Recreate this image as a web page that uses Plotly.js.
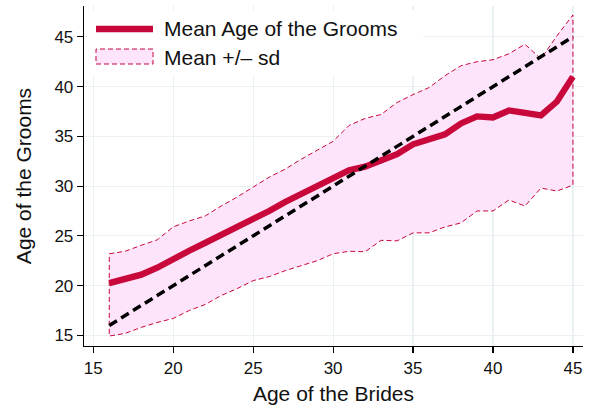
<!DOCTYPE html>
<html>
<head>
<meta charset="utf-8">
<script src="https://cdn.plot.ly/plotly-3.0.1.min.js"></script>
<style>
  html, body { margin: 0; padding: 0; background: #fff; }
  #chart { width: 597px; height: 412px; }
</style>
</head>
<body>
<div id="chart"></div>
<script>
// ---- data ----
const brideAge = [16,17,18,19,20,21,22,23,24,25,26,27,28,29,30,31,32,33,34,35,36,37,38,39,40,41,42,43,44,45];
const groomMean = [20.25,20.6,21.1,21.8,22.7,23.5,24.3,25.1,25.9,26.6,27.5,28.4,29.2,29.95,30.75,31.6,31.95,32.6,33.2,34.2,34.7,35.2,36.3,37.0,36.9,37.6,37.35,37.1,38.5,41.0];
const groomUpper = [23.2,23.45,24.05,24.6,25.9,26.5,27.0,28.0,28.9,29.9,30.9,31.7,32.7,33.6,34.5,36.1,36.8,37.2,38.4,39.2,39.9,41.1,42.1,42.5,42.7,43.3,44.25,42.8,45.1,47.2];
const groomLower = [14.93,15.2,15.8,16.3,16.7,17.5,18.1,19.0,19.7,20.5,20.9,21.5,22.0,22.5,23.2,23.45,23.4,24.55,24.5,25.3,25.3,25.9,26.3,27.5,27.5,28.6,28.0,29.8,29.5,30.1];
const equalAgeLine = [16, 45];
const xTicks = [15,20,25,30,35,40,45];
const yTicks = [15,20,25,30,35,40,45];
const legendLabels = ['Mean Age of the Grooms', 'Mean +/\u2013 sd'];

// ---- styles ----
const RED = '#c8073a';
const PINK = '#fde4fa';
const FONT = 'Liberation Sans, Arial, Helvetica, sans-serif';

// closed band polygon: upper left->right, lower right->left, back to start
const bandX = brideAge.concat(brideAge.slice().reverse(), [brideAge[0]]);
const bandY = groomUpper.concat(groomLower.slice().reverse(), [groomUpper[0]]);

const traces = [
  {
    x: bandX, y: bandY, type: 'scatter', mode: 'lines',
    fill: 'toself', fillcolor: PINK,
    line: {color: RED, width: 1, dash: '5px,3px'},
    showlegend: false, hoverinfo: 'skip'
  },
  {
    x: brideAge, y: groomMean, type: 'scatter', mode: 'lines',
    line: {color: RED, width: 6.3, shape: 'linear'},
    showlegend: false
  },
  {
    x: equalAgeLine, y: equalAgeLine, type: 'scatter', mode: 'lines',
    line: {color: '#000000', width: 3.5, dash: '9px,5px'},
    showlegend: false
  }
];

// pixel helpers for the hand-built legend (plot area: x 84..583, y 6..346)
const L = 84, R = 583, T = 6, B = 346;
const px = v => (v - L) / (R - L);
const py = v => (B - v) / (B - T);

const shapes = [
  {type: 'rect', xref: 'paper', yref: 'paper', layer: 'above',
   x0: px(87), x1: px(423), y0: py(76), y1: py(10),
   fillcolor: '#ffffff', line: {width: 0}},
  {type: 'line', xref: 'paper', yref: 'paper', layer: 'above',
   x0: px(96), x1: px(153), y0: py(29), y1: py(29),
   line: {color: RED, width: 6.5}},
  {type: 'rect', xref: 'paper', yref: 'paper', layer: 'above',
   x0: px(96), x1: px(153), y0: py(64), y1: py(49),
   fillcolor: PINK, line: {color: RED, width: 1, dash: '5px,3px'}}
];

const annotations = [
  {xref: 'paper', yref: 'paper', x: px(162), y: py(29), xanchor: 'left', yanchor: 'middle',
   text: legendLabels[0], showarrow: false, font: {family: FONT, size: 21, color: '#111'}},
  {xref: 'paper', yref: 'paper', x: px(162), y: py(57), xanchor: 'left', yanchor: 'middle',
   text: legendLabels[1], showarrow: false, font: {family: FONT, size: 21, color: '#111'}}
];

const layout = {
  width: 597, height: 412,
  margin: {l: L, r: 597 - R, t: T, b: 412 - B, pad: 0},
  paper_bgcolor: '#ffffff', plot_bgcolor: '#ffffff',
  font: {family: FONT, color: '#111'},
  showlegend: false,
  xaxis: {
    range: [14.42, 45.63], tickmode: 'array', tickvals: xTicks,
    ticktext: xTicks.map(String),
    showgrid: true, gridcolor: '#e9f1f2', gridwidth: 1.2,
    zeroline: false, showline: true, linecolor: '#000', linewidth: 1.3,
    ticks: 'outside', ticklen: 6, tickcolor: '#000', tickwidth: 1.2,
    tickfont: {family: FONT, size: 17, color: '#111'},
    title: {text: 'Age of the Brides', font: {family: FONT, size: 21, color: '#111'}, standoff: 9},
    automargin: false
  },
  yaxis: {
    range: [13.93, 48.1], tickmode: 'array', tickvals: yTicks,
    ticktext: yTicks.map(String),
    showgrid: true, gridcolor: '#e9f1f2', gridwidth: 1.2,
    zeroline: false, showline: true, linecolor: '#000', linewidth: 1.3,
    ticks: 'outside', ticklen: 6, tickcolor: '#000', tickwidth: 1.2,
    tickfont: {family: FONT, size: 17, color: '#111'},
    title: {text: 'Age of the Grooms', font: {family: FONT, size: 21, color: '#111'}, standoff: 17},
    automargin: false
  },
  shapes: shapes,
  annotations: annotations
};

Plotly.newPlot('chart', traces, layout, {staticPlot: true, displayModeBar: false});
</script>
</body>
</html>
